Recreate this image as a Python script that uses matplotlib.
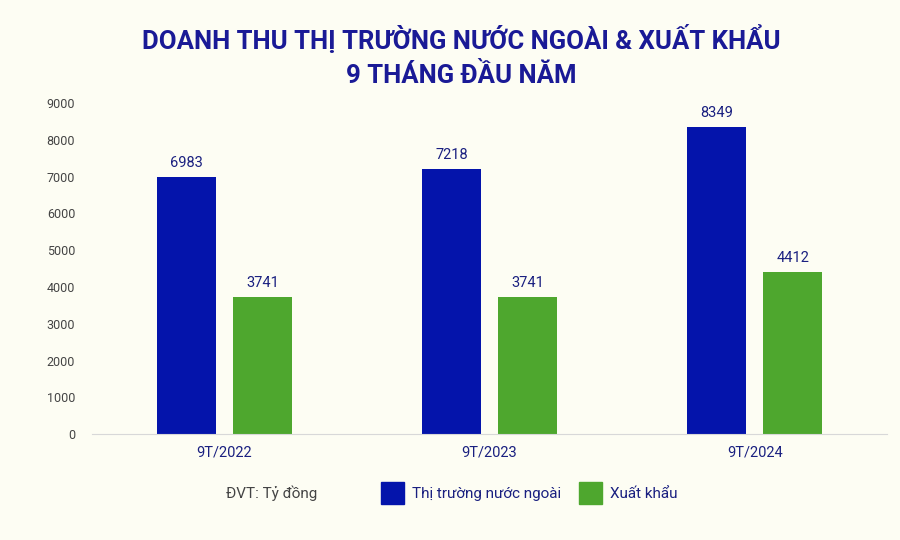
import matplotlib.pyplot as plt
import numpy as np
from matplotlib.patches import Patch

# data (ty dong)
categories = ["9T/2022", "9T/2023", "9T/2024"]
nuoc_ngoai = [6983, 7218, 8349]
xuat_khau = [3741, 3741, 4412]
series_names = ["Thị trường nước ngoài", "Xuất khẩu"]

bg = "#fdfdf3"
blue = "#0414ab"
green = "#4ea72e"
navy = "#1a2080"

plt.rcParams['font.family'] = ['Roboto', 'DejaVu Sans']

fig = plt.figure(figsize=(9, 5.4), dpi=100, facecolor=bg)
ax = fig.add_axes([0.102, 0.196, 0.884, 0.613], facecolor=bg)

x = np.arange(len(categories))
w = 0.223
off = 0.143
b1 = ax.bar(x - off, nuoc_ngoai, w, color=blue)
b2 = ax.bar(x + off, xuat_khau, w, color=green)

for bars in (b1, b2):
    for r in bars:
        ax.annotate(str(int(r.get_height())), (r.get_x() + r.get_width() / 2, r.get_height()),
                    xytext=(0, 5), textcoords="offset points", ha="center", va="bottom",
                    fontsize=10.5, color=navy)

ax.set_xlim(-0.5, 2.5)
ax.set_ylim(0, 9000)
ax.set_yticks(range(0, 9001, 1000))
ax.set_xticks(x)
ax.set_xticklabels(categories, color=navy, fontsize=10.5)
ax.tick_params(axis="x", length=0, pad=8)
ax.tick_params(axis="y", length=0, labelsize=9, labelcolor="#444444", pad=12)
for s in ["top", "right", "left"]:
    ax.spines[s].set_visible(False)
ax.spines["bottom"].set_color("#d8d8d8")

fig.text(0.513, 0.897, "DOANH THU THỊ TRƯỜNG NƯỚC NGOÀI & XUẤT KHẨU\n9 THÁNG ĐẦU NĂM",
         ha="center", va="center", fontsize=18.5, fontweight="bold", color="#1a1a96",
         linespacing=1.5)

fig.text(0.302, 0.087, "ĐVT: Tỷ đồng", ha="center", va="center", fontsize=11, color="#444444")

handles = [Patch(color=blue), Patch(color=green)]
leg = fig.legend(handles, series_names, loc="center left", bbox_to_anchor=(0.408, 0.087),
                 ncol=2, frameon=False, fontsize=11, handlelength=1.5, handleheight=1.9,
                 handletextpad=0.5, columnspacing=1.2)
for t in leg.get_texts():
    t.set_color(navy)

fig.savefig("out.png", dpi=100, facecolor=bg)
